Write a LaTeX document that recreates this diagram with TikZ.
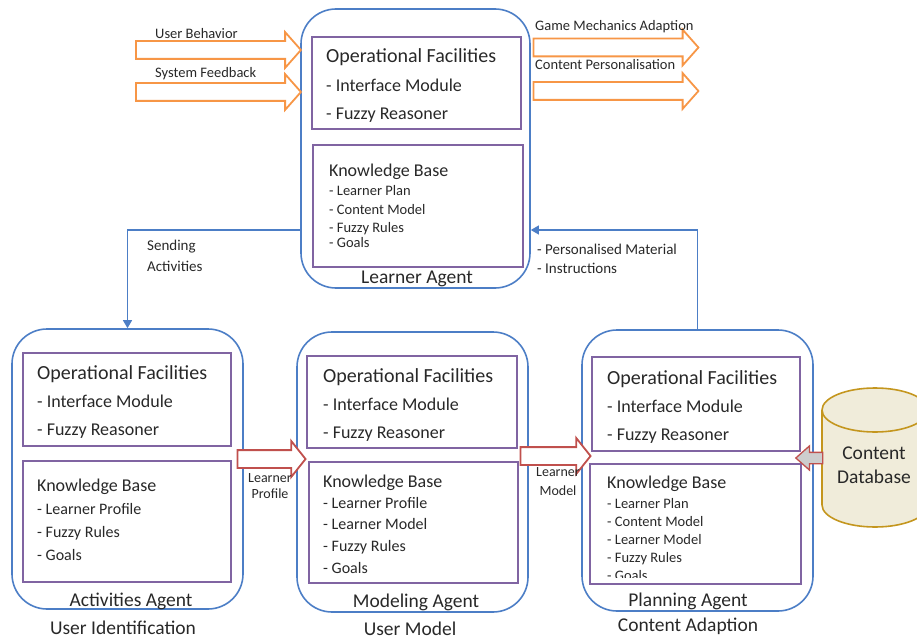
\documentclass[tikz,border=0pt]{standalone}
\usepackage{fontspec}
\setmainfont{Carlito}
\usetikzlibrary{arrows.meta, shapes.arrows, positioning}

\definecolor{agentblue}{RGB}{76,126,198}
\definecolor{boxpurple}{RGB}{128,100,162}
\definecolor{flowred}{RGB}{192,80,77}
\definecolor{floworange}{RGB}{247,150,70}
\definecolor{dbgold}{RGB}{196,150,30}
\definecolor{dbfill}{RGB}{240,236,218}
\definecolor{dbarrow}{RGB}{205,205,205}
\definecolor{txtgray}{RGB}{40,40,40}

\begin{document}
\begin{tikzpicture}[x=1pt, y=-1pt, text=txtgray,
    agent/.style={rectangle, draw=agentblue, line width=1.6pt, rounded corners=35pt},
    part/.style={rectangle, draw=boxpurple, line width=2pt},
    ophead/.style={anchor=base west, inner sep=0pt, font=\fontsize{20}{24}\selectfont},
    opitem/.style={anchor=base west, inner sep=0pt, font=\fontsize{18}{22}\selectfont},
    kbhead/.style={anchor=base west, inner sep=0pt, font=\fontsize{18}{22}\selectfont},
    kbitem/.style={anchor=base west, inner sep=0pt, font=\fontsize{16}{19}\selectfont},
    kbsmall/.style={anchor=base west, inner sep=0pt, font=\fontsize{14.5}{17}\selectfont},
    agentname/.style={anchor=base, inner sep=0pt, font=\fontsize{19.5}{23}\selectfont},
    lbl/.style={inner sep=0pt, font=\fontsize{14.5}{17}\selectfont},
    fat/.style={single arrow, fill=white, line width=1.8pt, inner xsep=0pt, inner ysep=8pt,
                single arrow head extend=9pt},
    link/.style={draw=agentblue, line width=1.2pt, -{Triangle[width=9pt,length=8pt]}}
]
    \useasboundingbox (0,0) rectangle (917,639);

    % Agents
    \node[agent, minimum width=229pt, minimum height=279pt] (learner) at (415.5,148.5) {};
    \node[agent, minimum width=231pt, minimum height=280pt] (activities) at (127.5,469) {};
    \node[agent, minimum width=231pt, minimum height=280pt] (modeling) at (412.5,472) {};
    \node[agent, minimum width=231pt, minimum height=281pt] (planning) at (697.5,470.5) {};

    % Inner boxes
    \node[part, minimum width=209pt, minimum height=92pt] (learner-op) at (416.5,83) {};
    \node[part, minimum width=210pt, minimum height=122pt] (learner-kb) at (418,206) {};
    \node[part, minimum width=208pt, minimum height=93pt] (activities-op) at (127,399.5) {};
    \node[part, minimum width=208pt, minimum height=121pt] (activities-kb) at (127,521.5) {};
    \node[part, minimum width=210pt, minimum height=92pt] (modeling-op) at (412,402) {};
    \node[part, minimum width=209pt, minimum height=121pt] (modeling-kb) at (413.5,522.5) {};
    \node[part, minimum width=208pt, minimum height=94pt] (planning-op) at (696,404) {};
    \node[part, minimum width=211pt, minimum height=120pt] (planning-kb) at (695.5,524) {};

    % Operational facilities, same in every agent
    \foreach \ag/\tx/\ty in {learner/326/63, activities/37/379, modeling/323/382, planning/607/384} {
        \node[ophead] (\ag-oph) at (\tx,\ty) {Operational Facilities};
        \node[opitem] (\ag-op1) at (\tx,{\ty+28.5}) {- Interface Module};
        \node[opitem] (\ag-op2) at (\tx,{\ty+56.5}) {- Fuzzy Reasoner};
    }

    % Knowledge bases
    \node[kbhead] (learner-kbh) at (329,176.5) {Knowledge Base};
    \foreach \t/\y [count=\i] in {Learner Plan/195.5, Content Model/214.5, Fuzzy Rules/232.5, Goals/247.5}
        \node[kbsmall] (learner-kb\i) at (329,\y) {- \t};

    \node[kbhead] (activities-kbh) at (37,491.5) {Knowledge Base};
    \foreach \t/\y [count=\i] in {Learner Profile/514, Fuzzy Rules/537, Goals/560}
        \node[kbitem] (activities-kb\i) at (37,\y) {- \t};

    \node[kbhead] (modeling-kbh) at (323,487.5) {Knowledge Base};
    \foreach \t/\y [count=\i] in {Learner Profile/508, Learner Model/529, Fuzzy Rules/551, Goals/573}
        \node[kbitem] (modeling-kb\i) at (323,\y) {- \t};

    \node[kbhead] (planning-kbh) at (607,488.5) {Knowledge Base};
    \begin{scope}
        \clip (592,466) rectangle (800,577.5);
        \foreach \t/\y [count=\i] in {Learner Plan/508, Content Model/526, Learner Model/544, Fuzzy Rules/562, Goals/580}
            \node[kbsmall] (planning-kb\i) at (607,\y) {- \t};
    \end{scope}

    % Agent names and roles
    \node[agentname] (learner-name) at (417,283) {Learner Agent};
    \node[agentname] (activities-name) at (131,606) {Activities Agent};
    \node[agentname] (modeling-name) at (416,607) {Modeling Agent};
    \node[agentname] (planning-name) at (688,606) {Planning Agent};
    \node[agentname] (activities-role) at (123,634) {User Identification};
    \node[agentname] (modeling-role) at (410,635) {User Model};
    \node[agentname] (planning-role) at (688,631) {Content Adaption};

    % Content database
    \filldraw[fill=dbfill, draw=dbgold, line width=1.6pt]
        (822,410) -- (822,505) arc[start angle=180, end angle=360, x radius=53pt, y radius=22pt]
        -- (928,410) arc[start angle=0, end angle=180, x radius=53pt, y radius=22pt] -- cycle;
    \draw[dbgold, line width=1.6pt] (822,410) arc[start angle=180, end angle=360, x radius=53pt, y radius=22pt];
    \node[align=center, inner sep=0pt, font=\fontsize{19.5}{24}\selectfont] (db) at (874,465) {Content\\Database};

    % Streams in and out of the learner agent
    \node[fat, draw=floworange, minimum height=165pt, single arrow tip angle=97] (behavior) at (214.5,50) {};
    \node[fat, draw=floworange, minimum height=165pt, single arrow tip angle=97] (feedback) at (214.5,92) {};
    \node[fat, draw=floworange, minimum height=165pt, single arrow tip angle=97] (mechanics) at (612,47.5) {};
    \node[fat, draw=floworange, minimum height=165pt, single arrow tip angle=97] (personal) at (612,91) {};
    \node[lbl, anchor=base west] (behavior-lbl) at (155,38.5) {User Behavior};
    \node[lbl, anchor=base west] (feedback-lbl) at (155,77.5) {System Feedback};
    \node[lbl, anchor=base west] (mechanics-lbl) at (535,30.5) {Game Mechanics Adaption};
    \node[lbl, anchor=base west] (personal-lbl) at (535,69.5) {Content Personalisation};

    % Flows between agents
    \node[fat, draw=flowred, minimum height=68pt, single arrow tip angle=103] (profile) at (268,459) {};
    \node[fat, draw=flowred, minimum height=70pt, single arrow tip angle=103] (model) at (552,456) {};
    \node[fat, draw=flowred, fill=dbarrow, line width=1.3pt, minimum height=27pt, inner ysep=5pt,
          single arrow head extend=6.5pt, single arrow tip angle=83, shape border rotate=180] (material) at (812.5,458) {};
    \node[lbl, align=center, font=\fontsize{14}{16}\selectfont] (profile-lbl) at (270,486) {Learner\\Profile};
    \node[lbl, align=center, font=\fontsize{14}{19}\selectfont] (model-lbl) at (558,482) {Learner\\Model};

    % Connectors
    \coordinate (linky) at (0,230);
    \draw[link] (learner.west |- linky) -| (activities.north);
    \draw[link] (planning.north) |- (learner.east |- linky);
    \node[lbl, anchor=west, align=left, font=\fontsize{15}{21}\selectfont] (sending) at (147,255.5) {Sending\\Activities};
    \node[lbl, anchor=west, align=left, font=\fontsize{15}{19}\selectfont] (material-lbl) at (537,258.5) {- Personalised Material\\- Instructions};

\end{tikzpicture}
\end{document}
